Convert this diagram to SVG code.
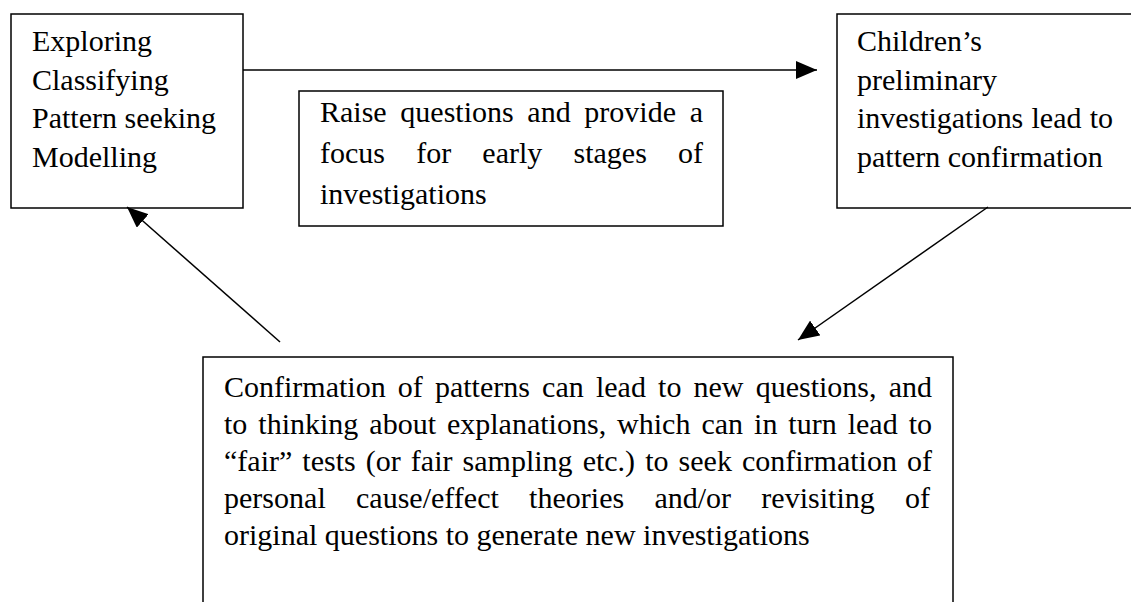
<svg xmlns="http://www.w3.org/2000/svg" width="1131" height="602" viewBox="0 0 1131 602">
  <style>
    .box { fill: #ffffff; stroke: #000000; stroke-width: 1.5; }
    .lbl { font-family: "Liberation Serif", "Times New Roman", serif; font-size: 30px; fill: #000000; }
    .conn { stroke: #000000; stroke-width: 1.5; fill: none; }
  </style>
  <defs>
    <marker id="arrowhead" viewBox="0 0 21 18" refX="21" refY="9" markerWidth="21" markerHeight="18" orient="auto" markerUnits="userSpaceOnUse">
      <path d="M0,0 L21,9 L0,18 z" fill="#000000"/>
    </marker>
  </defs>
  <rect width="1131" height="602" fill="#ffffff"/>

  <!-- process steps -->
  <g id="node-activities">
    <rect class="box" x="11" y="14" width="232" height="194"/>
    <text class="lbl" x="32" y="51">Exploring</text>
    <text class="lbl" x="32" y="90">Classifying</text>
    <text class="lbl" x="32" y="128">Pattern seeking</text>
    <text class="lbl" x="32" y="167">Modelling</text>
  </g>

  <g id="node-questions">
    <rect class="box" x="299" y="91" width="424" height="135"/>
    <text class="lbl" x="320" y="122" word-spacing="6.2" textLength="383" lengthAdjust="spacing">Raise questions and provide a</text>
    <text class="lbl" x="320" y="163" word-spacing="23.7" textLength="383" lengthAdjust="spacing">focus for early stages of</text>
    <text class="lbl" x="320" y="204">investigations</text>
  </g>

  <g id="node-preliminary">
    <rect class="box" x="837" y="14" width="310" height="194"/>
    <text class="lbl" x="857" y="51">Children’s</text>
    <text class="lbl" x="857" y="90">preliminary</text>
    <text class="lbl" x="857" y="128" word-spacing="0.8" textLength="256" lengthAdjust="spacing">investigations lead to</text>
    <text class="lbl" x="857" y="167">pattern confirmation</text>
  </g>

  <g id="node-confirmation">
    <rect class="box" x="203" y="357" width="750" height="260"/>
    <text class="lbl" x="224" y="397" word-spacing="4.66" textLength="708" lengthAdjust="spacing">Confirmation of patterns can lead to new questions, and</text>
    <text class="lbl" x="224" y="434" word-spacing="3.48" textLength="708" lengthAdjust="spacing">to thinking about explanations, which can in turn lead to</text>
    <text class="lbl" x="224" y="471" word-spacing="2.58" textLength="708" lengthAdjust="spacing">“fair” tests (or fair sampling etc.) to seek confirmation of</text>
    <text class="lbl" x="224" y="508" word-spacing="22.7" textLength="706" lengthAdjust="spacing">personal cause/effect theories and/or revisiting of</text>
    <text class="lbl" x="224" y="545">original questions to generate new investigations</text>
  </g>

  <!-- cycle connectors -->
  <g id="connectors">
    <line class="conn" x1="243" y1="70" x2="817" y2="70" marker-end="url(#arrowhead)"/>
    <line class="conn" x1="988" y1="207" x2="798" y2="340" marker-end="url(#arrowhead)"/>
    <line class="conn" x1="280" y1="342" x2="127" y2="207" marker-end="url(#arrowhead)"/>
  </g>
</svg>
